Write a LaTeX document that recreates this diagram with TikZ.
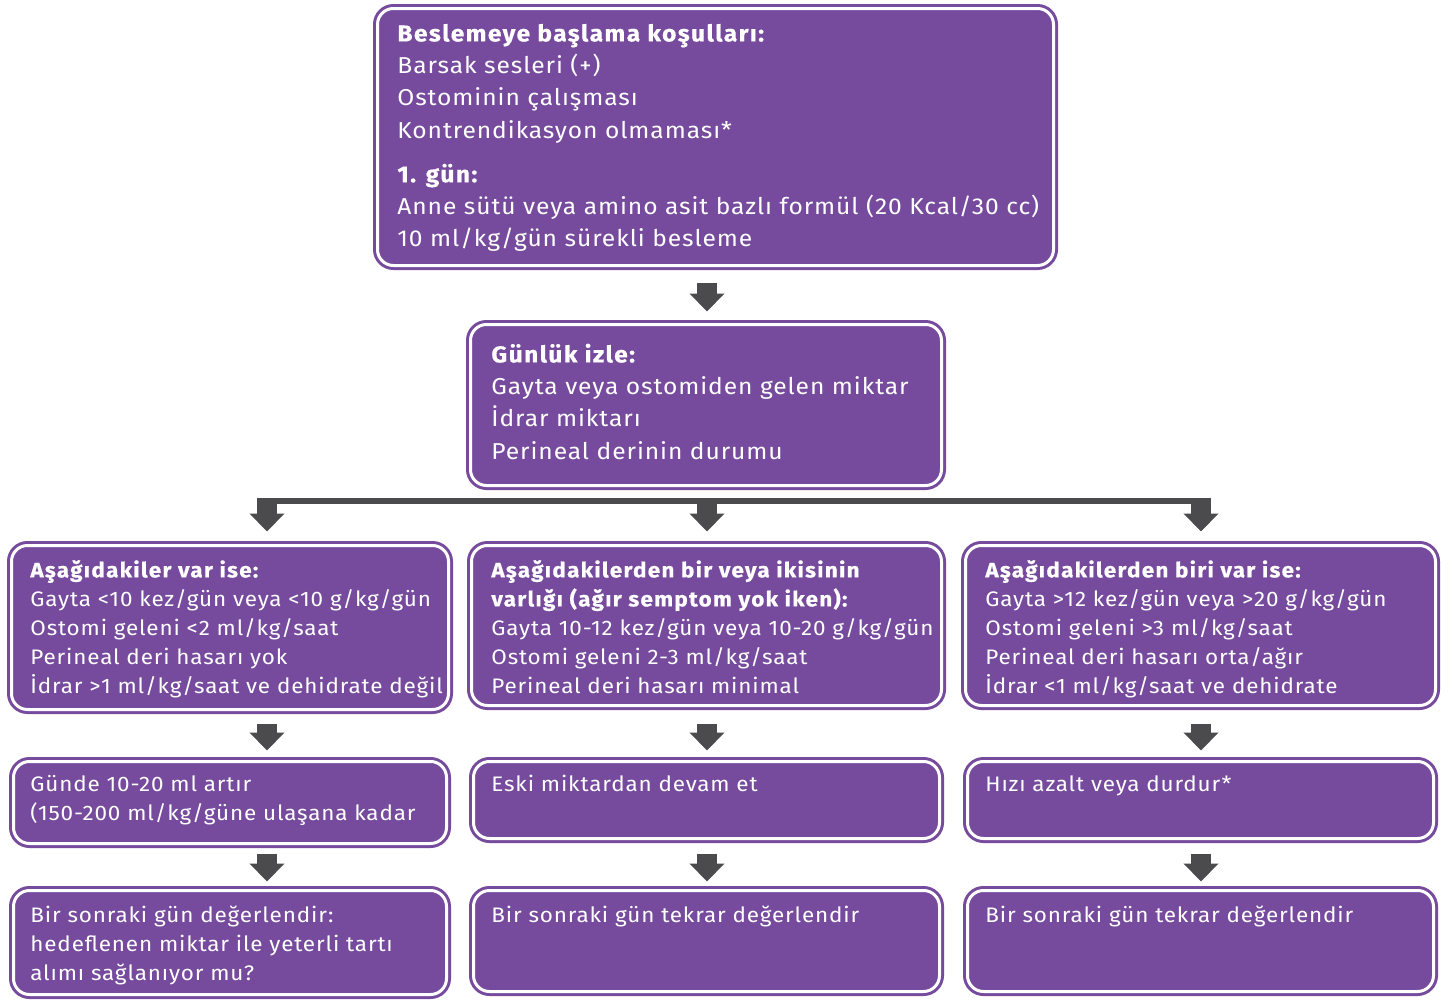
\documentclass[tikz,border=0pt]{standalone}
\usepackage{fontspec}
\setmainfont[FakeStretch=1.07, LetterSpace=4, BoldFeatures={FakeBold=0.5, LetterSpace=6}]{Fira Sans}
\usetikzlibrary{arrows.meta,calc}
\definecolor{pur}{HTML}{764B9D}
\definecolor{agrey}{HTML}{4B4A4C}
\newcommand\fl{\rule{0pt}{11pt}}
\begin{document}
\begin{tikzpicture}[x=0.5pt,y=-0.5pt,
  box/.style={draw=pur, fill=pur, double=white, double distance=1.5pt, line width=1.5pt, rounded corners=8pt, inner sep=0pt},
  txt/.style={text=white, anchor=north west, align=left, inner sep=0pt, font=\fontsize{11.5}{16.1}\selectfont},
  txts/.style={txt, font=\fontsize{10.5}{14.5}\selectfont},
  blk/.style={draw=agrey, line width=10pt, -{Triangle[width=17pt,length=9pt]}},
  bar/.style={draw=agrey, line width=3pt},
]
\useasboundingbox (0,0) rectangle (1448,1001);
% boxes
\node[box, minimum width=338pt, minimum height=128.5pt] (top) at (715.5,137) {};
\node[box, minimum width=235.5pt, minimum height=80.5pt] (mon) at (706,405) {};
\node[box, minimum width=218.5pt, minimum height=82pt] (r1L) at (230,627.5) {};
\node[box, minimum width=235pt, minimum height=80pt] (r1M) at (706.5,625.5) {};
\node[box, minimum width=235pt, minimum height=80pt] (r1R) at (1200.5,625.5) {};
\node[box, minimum width=216.5pt, minimum height=41pt] (r2L) at (230,802.5) {};
\node[box, minimum width=233pt, minimum height=38.5pt] (r2M) at (706.5,800) {};
\node[box, minimum width=233pt, minimum height=38.5pt] (r2R) at (1200.5,800) {};
\node[box, minimum width=216.5pt, minimum height=52pt] (r3L) at (230,942.5) {};
\node[box, minimum width=233pt, minimum height=50.5pt] (r3M) at (706.5,941) {};
\node[box, minimum width=233pt, minimum height=50.5pt] (r3R) at (1200.5,941) {};
% texts (first baseline = y + 22)
\node[txt] (ttop) at (397,19) {\fl\textbf{Beslemeye başlama koşulları:}\\ Barsak sesleri (+)\\ Ostominin çalışması\\ Kontrendikasyon olmaması*\\[6pt] \textbf{1. gün:}\\ Anne sütü veya amino asit bazlı formül (20 Kcal/30 cc)\\ 10 ml/kg/gün sürekli besleme};
\node[txt] (tmon) at (491,340) {\fl\textbf{Günlük izle:}\\ Gayta veya ostomiden gelen miktar\\ İdrar miktarı\\ Perineal derinin durumu};
\node[txts] (t1L) at (30,555) {\fl\textbf{Aşağıdakiler var ise:}\\ Gayta <10 kez/gün veya <10 g/kg/gün\\ Ostomi geleni <2 ml/kg/saat\\ Perineal deri hasarı yok\\ İdrar >1 ml/kg/saat ve dehidrate değil};
\node[txts] (t1M) at (491,555) {\fl\textbf{Aşağıdakilerden bir veya ikisinin}\\ \textbf{varlığı (ağır semptom yok iken):}\\ Gayta 10-12 kez/gün veya 10-20 g/kg/gün\\ Ostomi geleni 2-3 ml/kg/saat\\ Perineal deri hasarı minimal};
\node[txts] (t1R) at (985,555) {\fl\textbf{Aşağıdakilerden biri var ise:}\\ Gayta >12 kez/gün veya >20 g/kg/gün\\ Ostomi geleni >3 ml/kg/saat\\ Perineal deri hasarı orta/ağır\\ İdrar <1 ml/kg/saat ve dehidrate};
\node[txts] (t2L) at (30,769) {\fl Günde 10-20 ml artır\\ (150-200 ml/kg/güne ulaşana kadar};
\node[txts] (t2M) at (491,769) {\fl Eski miktardan devam et};
\node[txts] (t2R) at (985,769) {\fl Hızı azalt veya durdur*};
\node[txts] (t3L) at (30,900) {\fl Bir sonraki gün değerlendir:\\ hedeflenen miktar ile yeterli tartı\\ alımı sağlanıyor mu?};
\node[txts] (t3M) at (491,900) {\fl Bir sonraki gün tekrar değerlendir};
\node[txts] (t3R) at (985,900) {\fl Bir sonraki gün tekrar değerlendir};
% arrow columns
\coordinate (cL) at (267,0);
\coordinate (cM) at (707,0);
\coordinate (cR) at (1201,0);
\coordinate (barL) at (257,501);
\coordinate (barR) at (1211,501);
% connectors
\draw[blk] ($(top.south -| cM)+(0,15.5)$) -- ($(mon.north -| cM)+(0,-11.5)$);
\draw[bar] (barL) -- (barR);
\draw[blk] ($(barL -| cL)+(0,-3)$) -- ($(r1L.north -| cL)+(0,-12.5)$);
\draw[blk] (barL -| cM) -- ($(r1M.north -| cM)+(0,-12.5)$);
\draw[blk] ($(barR -| cR)+(0,-3)$) -- ($(r1R.north -| cR)+(0,-12.5)$);
\draw[blk] ($(r1L.south -| cL)+(0,12.5)$) -- ($(r2L.north -| cL)+(0,-9.5)$);
\draw[blk] ($(r1M.south -| cM)+(0,16.5)$) -- ($(r2M.north -| cM)+(0,-9.5)$);
\draw[blk] ($(r1R.south -| cR)+(0,16.5)$) -- ($(r2R.north -| cR)+(0,-9.5)$);
\draw[blk] ($(r2L.south -| cL)+(0,8.5)$) -- ($(r3L.north -| cL)+(0,-7.5)$);
\draw[blk] ($(r2M.south -| cM)+(0,13.5)$) -- ($(r3M.north -| cM)+(0,-7.5)$);
\draw[blk] ($(r2R.south -| cR)+(0,13.5)$) -- ($(r3R.north -| cR)+(0,-7.5)$);
\end{tikzpicture}
\end{document}
